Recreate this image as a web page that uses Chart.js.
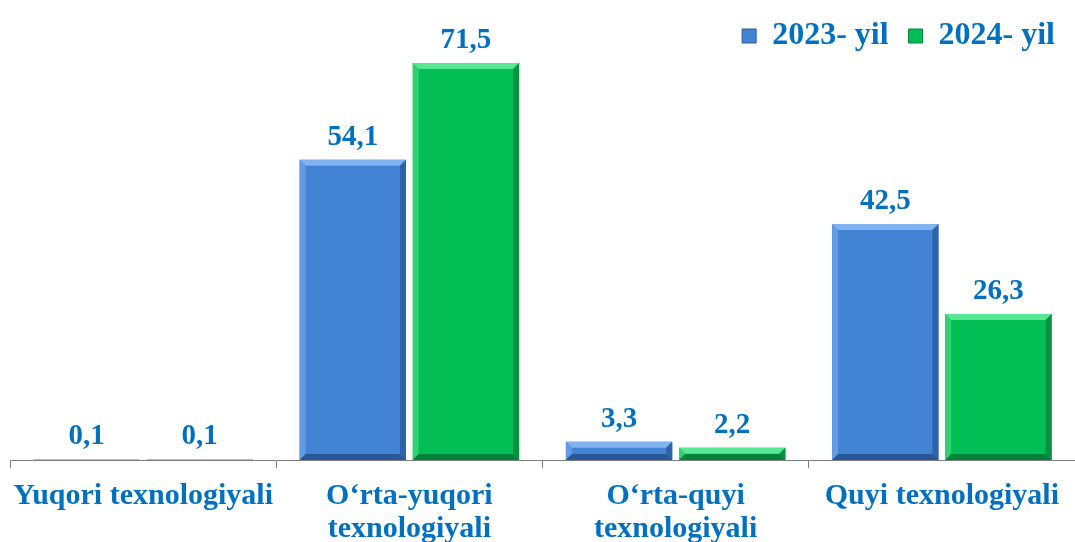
<!DOCTYPE html>
<html>
<head>
<meta charset="utf-8">
<script src="https://cdn.jsdelivr.net/npm/chart.js@4"></script>
<style>
  html, body { margin: 0; padding: 0; background: #fff; }
</style>
</head>
<body>
<canvas id="myChart" width="1075" height="542"></canvas>
<script>
const categories = [
  'Yuqori texnologiyali',
  ['O\u2018rta-yuqori', 'texnologiyali'],
  ['O\u2018rta-quyi', 'texnologiyali'],
  'Quyi texnologiyali'
];
const seriesNames = ['2023- yil', '2024- yil'];
const values2023 = [0.1, 54.1, 3.3, 42.5];
const values2024 = [0.1, 71.5, 2.2, 26.3];

const textBlue = '#0070C0';
const serif = '"Liberation Serif", "Times New Roman", serif';
const bevels = [
  { body: '#4383D4', top: '#80B3F0', left: '#639CE4', right: '#2F63A9', bottom: '#2A5796', edge: '#2A5796' },
  { body: '#03BE55', top: '#58E894', left: '#2CD470', right: '#06923F', bottom: '#04823A', edge: '#04823A' }
];

// bevelled look for the bars, drawn on top of the library's bar elements
const bevelPlugin = {
  id: 'bevel',
  afterDatasetsDraw(chart) {
    const c = chart.ctx;
    chart.data.datasets.forEach((ds, i) => {
      const col = bevels[i];
      chart.getDatasetMeta(i).data.forEach(bar => {
        const l = bar.x - bar.width / 2, r = bar.x + bar.width / 2;
        const t = Math.min(bar.y, bar.base), b = Math.max(bar.y, bar.base);
        const h = b - t;
        if (h < 1) return;
        const s = Math.min(6, h / 2);
        const poly = (pts, color) => {
          c.beginPath();
          c.moveTo(pts[0][0], pts[0][1]);
          pts.slice(1).forEach(p => c.lineTo(p[0], p[1]));
          c.closePath();
          c.fillStyle = color;
          c.fill();
        };
        c.save();
        poly([[l, t], [r, t], [r - s, t + s], [l + s, t + s]], col.top);
        poly([[l, t], [l + s, t + s], [l + s, b - s], [l, b]], col.left);
        poly([[r, t], [r, b], [r - s, b - s], [r - s, t + s]], col.right);
        poly([[l, b], [l + s, b - s], [r - s, b - s], [r, b]], col.bottom);
        c.restore();
      });
    });
  }
};

// value labels above each bar
const valueLabels = {
  id: 'valueLabels',
  afterDatasetsDraw(chart) {
    const c = chart.ctx;
    c.save();
    c.font = 'bold 29px ' + serif;
    c.fillStyle = textBlue;
    c.textAlign = 'center';
    c.textBaseline = 'alphabetic';
    chart.data.datasets.forEach((ds, i) => {
      chart.getDatasetMeta(i).data.forEach((bar, j) => {
        const txt = ds.data[j].toFixed(1).replace('.', ',');
        c.fillText(txt, bar.x, bar.y - 15);
      });
    });
    c.restore();
  }
};

new Chart(document.getElementById('myChart'), {
  type: 'bar',
  data: {
    labels: categories,
    datasets: [
      {
        label: seriesNames[0],
        data: values2023,
        backgroundColor: bevels[0].body,
        borderWidth: 0,
        categoryPercentage: 0.85,
        barPercentage: 0.94
      },
      {
        label: seriesNames[1],
        data: values2024,
        backgroundColor: bevels[1].body,
        borderWidth: 0,
        categoryPercentage: 0.85,
        barPercentage: 0.94
      }
    ]
  },
  options: {
    responsive: false,
    animation: false,
    layout: {
      padding: { left: 10, right: 0, top: 0, bottom: -16 }
    },
    plugins: {
      legend: {
        display: true,
        position: 'top',
        align: 'end',
        labels: {
          boxWidth: 14,
          boxHeight: 14,
          padding: 20,
          color: textBlue,
          font: { family: serif, size: 32, weight: 'bold' },
          generateLabels(chart) {
            return chart.data.datasets.map((ds, i) => ({
              text: ds.label,
              fillStyle: bevels[i].body,
              strokeStyle: bevels[i].edge,
              lineWidth: 1,
              fontColor: textBlue,
              datasetIndex: i
            }));
          }
        }
      },
      tooltip: { enabled: false },
      title: { display: false }
    },
    scales: {
      x: {
        grid: {
          offset: true,
          drawOnChartArea: false,
          drawTicks: true,
          tickLength: 8,
          color: '#808080'
        },
        border: { display: true, color: '#808080', width: 1 },
        ticks: {
          color: textBlue,
          padding: 12,
          maxRotation: 0,
          autoSkip: false,
          font: { family: serif, size: 30, weight: 'bold', lineHeight: 1.1 }
        }
      },
      y: {
        display: false,
        min: 0,
        max: 71.7
      }
    }
  },
  plugins: [bevelPlugin, valueLabels]
});
</script>
</body>
</html>
